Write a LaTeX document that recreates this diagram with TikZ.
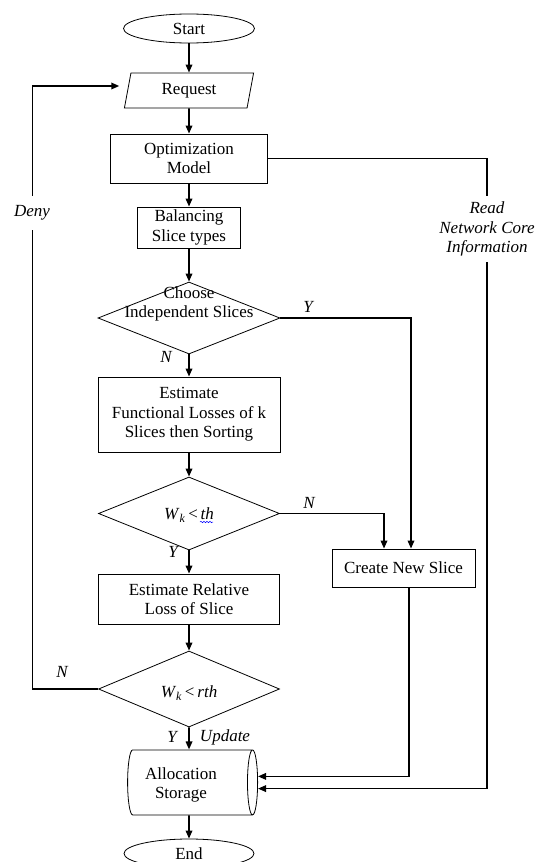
\documentclass[tikz,border=0pt]{standalone}
\usepackage{fontspec}
\setmainfont{Liberation Serif}
\usetikzlibrary{shapes.geometric,arrows.meta,decorations.pathmorphing}
\begin{document}
\begin{tikzpicture}[x=1pt,y=-1pt,
  font=\fontsize{17}{19.5}\selectfont,
  shp/.style={draw,line width=0.8pt,inner sep=2pt,align=center},
  box/.style={shp,rectangle},
  term/.style={shp,ellipse},
  dia/.style={shp,diamond},
  conn/.style={line width=1.7pt,-{Triangle[length=8pt,width=6.5pt]}},
  lab/.style={font=\fontsize{17}{19.5}\selectfont\itshape,inner sep=1pt},
  gaplab/.style={lab,fill=white,align=center}
]
\useasboundingbox (0,0) rectangle (541,862);
\node[term,minimum width=131,minimum height=29,inner sep=0] (start) at (189,28.5) {Start};
\node[shp,trapezium,trapezium left angle=80,trapezium right angle=100,trapezium stretches=true,minimum width=130,minimum height=35] (request) at (189,90.5) {Request};
\node[box,minimum width=157,minimum height=49] (opt) at (189,158.5) {Optimization\\Model};
\node[box,minimum width=103,minimum height=41] (bal) at (189,227.5) {Balancing\\Slice types};
\node[dia,minimum width=182,minimum height=72] (d1) at (189,318) {};
\node[align=center,inner sep=0] (d1t) at (189,304) {Choose\\Independent Slices};
\node[box,minimum width=182,minimum height=75] (est1) at (189,414.5) {Estimate\\Functional Losses of k\\Slices then Sorting};
\node[dia,minimum width=181,minimum height=73] (d2) at (189,513.5) {};
\node[inner sep=0] (d2t) at (189,515) {\textit{W}\textsubscript{\textit{k}}\,<\,\textit{th}};
\node[box,minimum width=181,minimum height=50] (est2) at (189,599) {Estimate Relative\\Loss of Slice};
\node[dia,minimum width=181,minimum height=76] (d3) at (189,689) {};
\node[inner sep=0] (d3t) at (189,693) {\textit{W}\textsubscript{\textit{k}}\,<\,\textit{rth}};
\node[box,minimum width=143,minimum height=38] (create) at (403.5,568) {Create New Slice};
\node[shp,cylinder,shape aspect=0.26,minimum width=65,minimum height=130] (stor) at (189,782.4) {\phantom{Allocation}\\\phantom{Storage}};
\node[align=center,inner sep=0] (stort) at (181,785) {Allocation\\Storage};
\node[term,minimum width=130,minimum height=29,inner sep=0] (end) at (189,853.5) {End};
% connectors
\draw[conn] (start) -- (request);
\draw[conn] (request) -- (opt);
\draw[conn] (opt) -- (bal);
\draw[conn] (bal) -- (d1);
\draw[conn] (d1) -- (est1);
\draw[conn] (est1) -- (d2);
\draw[conn] (d2) -- (est2);
\draw[conn] (est2) -- (d3);
\draw[conn] (d3) -- (stor);
\draw[conn] (stor) -- (end);
\draw[conn] (d1.east) -| ([xshift=7.5pt]create.north);
\draw[conn] (d2.east) -| ([xshift=-19.5pt]create.north);
\draw[conn] (d3.west) -- ++(-65.5,0) |- ([xshift=-8pt,yshift=4.5pt]request.west);
\coordinate (rc) at (487,158.5);
\draw[conn] (opt.east) -- (rc) |- ([yshift=-6.2pt]stor.east);
\draw[conn] ([xshift=5.5pt]create.south) |- ([yshift=6pt]stor.east);
% labels
\node[gaplab,minimum height=34] (deny) at (32,213) {Deny};
\node[gaplab,inner ysep=6pt] (read) at (487,229) {Read\\Network Core\\Information};
\node[lab] (y1) at (308,307) {Y};
\node[lab] (n1) at (166,357) {N};
\node[lab] (n2) at (309,503) {N};
\node[lab] (y2) at (173,552) {Y};
\node[lab] (n3) at (62,672) {N};
\node[lab] (y3) at (172,737) {Y};
\node[lab] (upd) at (225,737) {Update};
\draw[blue,line width=0.5pt,decorate,decoration={snake,amplitude=0.7pt,segment length=3pt}] (200,522) -- (213,522);
\end{tikzpicture}
\end{document}
